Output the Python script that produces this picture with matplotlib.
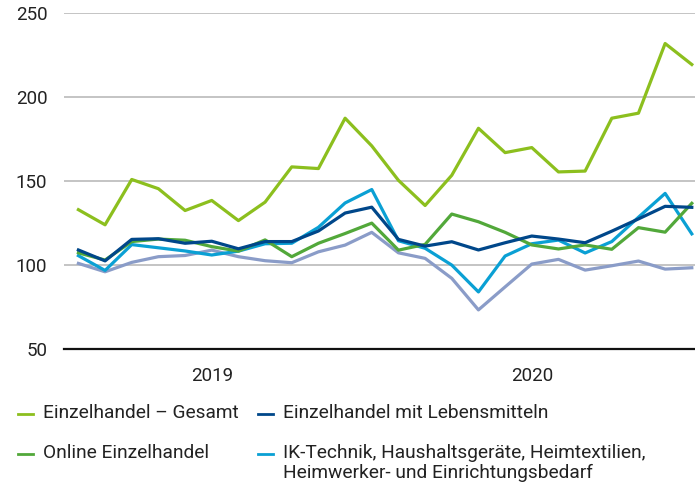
import matplotlib
matplotlib.use("Agg")
import matplotlib.pyplot as plt
from matplotlib.lines import Line2D

plt.rcParams['font.family'] = ['Roboto', 'DejaVu Sans']
plt.rcParams['font.size'] = 13.5

# monthly index values, 2019-2020 (24 months)
gesamt = [133, 124, 151, 145.5, 132.5, 138.5, 126.5, 137.5, 158.5, 157.5, 187.5, 171,
          150.5, 135.5, 153.5, 181.5, 167, 170, 155.5, 156, 187.5, 190.5, 232, 219.5]
lebensmittel = [109, 102.5, 115.3, 115.7, 113, 114.2, 109.7, 114, 114, 120.3, 131, 134.5,
                115.3, 111.3, 113.9, 109, 113.3, 117.3, 115.5, 113.3, 120.2, 127.5, 135, 134.4]
online = [107.3, 103, 114, 115.5, 114.8, 111, 108.3, 115, 105, 113, 118.8, 125,
          108.9, 112.3, 130.4, 125.8, 119.5, 112, 109.6, 112, 109.4, 122.3, 119.6, 136.8]
ik_technik = [105.6, 96.8, 112.2, 110.3, 108.4, 106, 108.3, 112.7, 113, 122.5, 137, 145,
              114.5, 110, 100, 84, 105.4, 112.7, 114.9, 107.2, 114, 128.5, 142.7, 118.6]
sonstige = [101, 96, 101.6, 105, 105.7, 108.9, 105, 102.6, 101.4, 107.9, 111.9, 119.5,
            107.3, 104, 92.1, 73.3, 87, 100.6, 103.4, 97, 99.6, 102.4, 97.6, 98.4]

years = ['2019', '2020']
year_pos = [5, 17]

c_gesamt = '#8cbf1e'
c_leb = '#00478a'
c_online = '#52a83a'
c_ik = '#0aa0d4'
c_sonst = '#8a9cc8'

fig = plt.figure(figsize=(6.95, 4.87), dpi=100)
ax = fig.add_axes([64 / 695, 1 - 349 / 487, 1 - 64 / 695, (349 - 13.3) / 487])

x = list(range(len(gesamt)))
lw = 2.3
ax.plot(x, sonstige, color=c_sonst, lw=lw)
ax.plot(x, ik_technik, color=c_ik, lw=lw)
ax.plot(x, online, color=c_online, lw=lw)
ax.plot(x, lebensmittel, color=c_leb, lw=lw)
ax.plot(x, gesamt, color=c_gesamt, lw=lw)

ax.set_ylim(50, 250)
ax.set_xlim(-0.54, 23.12)
ax.set_yticks([50, 100, 150, 200, 250])
ax.yaxis.grid(True, color='#c4c4c4', lw=1.4)
ax.set_axisbelow(True)
for s in ['top', 'right', 'left']:
    ax.spines[s].set_visible(False)
ax.spines['bottom'].set_color('#111111')
ax.spines['bottom'].set_linewidth(1.6)
ax.tick_params(axis='y', length=0, pad=12, colors='#222222')
ax.set_xticks(year_pos)
ax.set_xticklabels(years)
ax.tick_params(axis='x', length=0, pad=13, colors='#222222')

# legend drawn by hand
entries = [
    (c_gesamt, 'Einzelhandel \u2013 Gesamt', 18, 414),
    (c_leb, 'Einzelhandel mit Lebensmitteln', 258, 414),
    (c_online, 'Online Einzelhandel', 18, 454),
    (c_ik, 'IK-Technik, Haushaltsger\u00e4te, Heimtextilien,\nHeimwerker- und Einrichtungsbedarf', 258, 454),
]
for col, lab, px, py in entries:
    fy = 1 - py / 487
    fig.add_artist(Line2D([px / 695, (px + 15) / 695], [fy, fy], color=col, lw=2.0,
                          transform=fig.transFigure))
    fig.text((px + 25) / 695, fy + 9.5 / 487, lab, ha='left', va='top', color='#222222',
             fontsize=13.8, linespacing=1.12)

fig.savefig('out.png', dpi=100)
